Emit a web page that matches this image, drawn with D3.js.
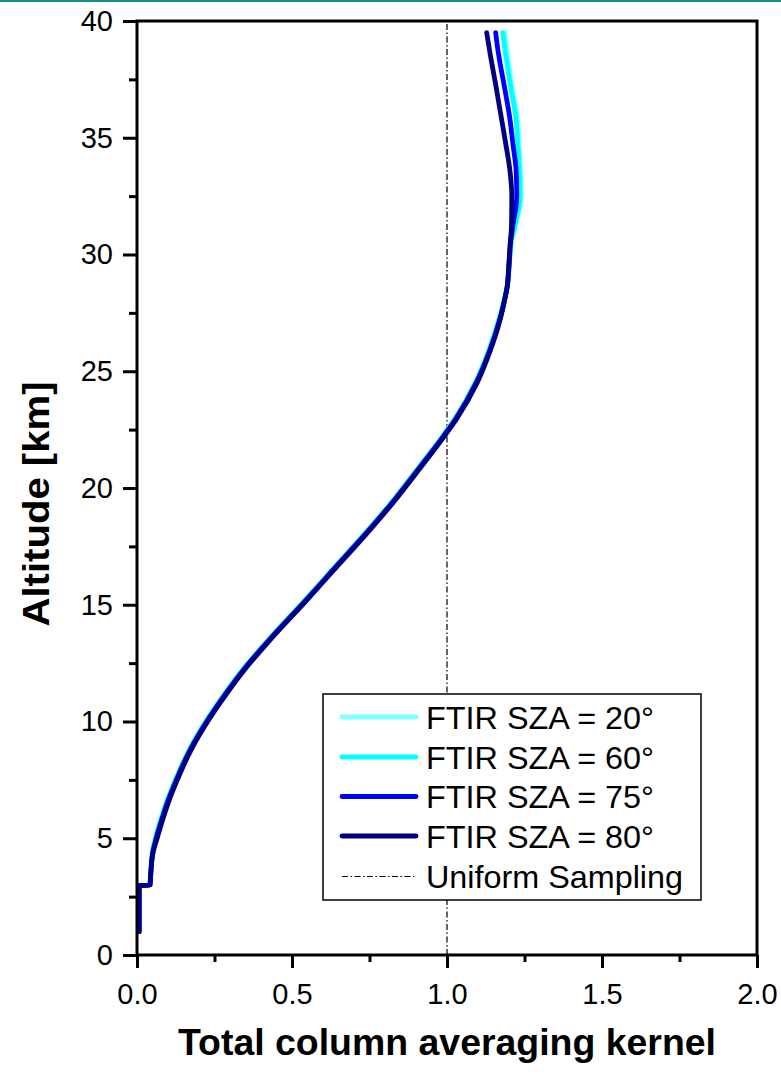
<!DOCTYPE html>
<html>
<head>
<meta charset="utf-8">
<script src="https://cdn.jsdelivr.net/npm/d3@7"></script>
<style>
  html, body { margin: 0; padding: 0; background: #fff; }
  svg { display: block; }
  text { font-family: "Liberation Sans", Arial, sans-serif; }
</style>
</head>
<body>
<svg id="chart" width="781" height="1074"></svg>
<script>
// ---- Data ----
const altitude = [1.0, 2.97, 3.0, 3.2, 3.6, 4.4, 5.0, 5.8, 6.6, 7.5, 8.8, 10.0, 11.0, 12.3, 13.5, 15.2, 16.5, 18.0, 19.5, 20.9, 22.3, 23.0, 24.5, 25.9, 27.3, 28.0, 28.6, 29.5, 30.5, 31.2, 32.5, 33.6, 34.7, 35.8, 37.2, 38.6, 39.5];

const sza20 = [0.007, 0.007, 0.042, 0.043, 0.045, 0.049, 0.058, 0.076, 0.096, 0.123, 0.168, 0.221, 0.272, 0.345, 0.423, 0.541, 0.629, 0.731, 0.827, 0.909, 0.989, 1.026, 1.090, 1.134, 1.168, 1.183, 1.193, 1.201, 1.207, 1.220, 1.240, 1.238, 1.233, 1.227, 1.210, 1.195, 1.187];
const sza60 = [0.007, 0.007, 0.042, 0.043, 0.045, 0.050, 0.060, 0.078, 0.098, 0.125, 0.170, 0.223, 0.274, 0.347, 0.425, 0.543, 0.631, 0.733, 0.829, 0.911, 0.991, 1.028, 1.092, 1.136, 1.170, 1.184, 1.194, 1.201, 1.206, 1.218, 1.235, 1.233, 1.228, 1.223, 1.205, 1.189, 1.180];
const sza75 = [0.007, 0.007, 0.042, 0.043, 0.045, 0.051, 0.062, 0.080, 0.100, 0.127, 0.172, 0.225, 0.276, 0.349, 0.427, 0.545, 0.633, 0.735, 0.831, 0.913, 0.993, 1.030, 1.094, 1.138, 1.172, 1.185, 1.194, 1.200, 1.205, 1.212, 1.225, 1.223, 1.213, 1.203, 1.185, 1.166, 1.157];
const sza80 = [0.007, 0.007, 0.042, 0.043, 0.045, 0.052, 0.065, 0.083, 0.103, 0.130, 0.175, 0.228, 0.279, 0.352, 0.430, 0.548, 0.636, 0.738, 0.834, 0.916, 0.996, 1.033, 1.097, 1.140, 1.173, 1.185, 1.194, 1.199, 1.204, 1.208, 1.209, 1.203, 1.190, 1.176, 1.158, 1.139, 1.128];

const seriesNames = ["FTIR SZA = 20°", "FTIR SZA = 60°", "FTIR SZA = 75°", "FTIR SZA = 80°"];
const seriesColors = ["#80ffff", "#00ffff", "#0000ff", "#000080"];
const seriesValues = [sza20, sza60, sza75, sza80];

const uniformName = "Uniform Sampling";
const uniformValue = 1.0;

const xMajorTicks = [0, 0.5, 1.0, 1.5, 2.0];
const xMinorTicks = [0.25, 0.75, 1.25, 1.75];
const yMajorTicks = [0, 5, 10, 15, 20, 25, 30, 35, 40];
const yMinorTicks = [2.5, 7.5, 12.5, 17.5, 22.5, 27.5, 32.5, 37.5];

const xTitle = "Total column averaging kernel";
const yTitle = "Altitude [km]";

// ---- Layout ----
const svg = d3.select("#chart");
const L = 137, R = 757, T = 21, B = 955;
const x = d3.scaleLinear().domain([0, 2]).range([L, R]);
const y = d3.scaleLinear().domain([0, 40]).range([B, T]);

// top teal strip
svg.append("rect").attr("x", 0).attr("y", 0).attr("width", 781).attr("height", 2).attr("fill", "#138c8c");

// uniform sampling line
svg.append("line")
  .attr("x1", x(uniformValue)).attr("x2", x(uniformValue))
  .attr("y1", y(0)).attr("y2", y(40))
  .attr("stroke", "#000").attr("stroke-width", 1.2)
  .attr("stroke-dasharray", "6,2.5,1.5,2.5");

// curves
const line = d3.line().x(d => x(d[0])).y(d => y(d[1])).curve(d3.curveMonotoneY);
seriesValues.forEach((vals, i) => {
  const pts = vals.map((v, j) => [v, altitude[j]]);
  svg.append("path")
    .attr("d", line(pts))
    .attr("fill", "none")
    .attr("stroke", seriesColors[i])
    .attr("stroke-width", 4.8)
    .attr("stroke-linecap", "round")
    .attr("stroke-linejoin", "round");
});

// frame
svg.append("rect").attr("x", L).attr("y", T).attr("width", R - L).attr("height", B - T)
  .attr("fill", "none").attr("stroke", "#000").attr("stroke-width", 3);

// axes
const fontTick = 29;
const yAxis = d3.axisLeft(y).tickValues(yMajorTicks).tickSize(14).tickPadding(10).tickFormat(d3.format("d"));
const gy = svg.append("g").attr("transform", `translate(${L},0)`).call(yAxis);
const yMinor = d3.axisLeft(y).tickValues(yMinorTicks).tickSize(8).tickFormat("");
const gym = svg.append("g").attr("transform", `translate(${L},0)`).call(yMinor);

const xAxis = d3.axisBottom(x).tickValues(xMajorTicks).tickSize(13).tickPadding(15).tickFormat(d3.format(".1f"));
const gx = svg.append("g").attr("transform", `translate(0,${B})`).call(xAxis);
const xMinor = d3.axisBottom(x).tickValues(xMinorTicks).tickSize(7).tickFormat("");
const gxm = svg.append("g").attr("transform", `translate(0,${B})`).call(xMinor);

[gy, gym, gx, gxm].forEach(g => {
  g.select(".domain").remove();
  g.selectAll(".tick line").attr("stroke", "#000").attr("stroke-width", 3);
  g.selectAll("text").attr("font-size", fontTick).attr("fill", "#000")
    .attr("font-family", "'Liberation Sans', Arial, sans-serif");
});

// axis titles
svg.append("text").attr("x", 447).attr("y", 1055).attr("text-anchor", "middle")
  .attr("font-size", 37).attr("font-weight", "bold").attr("textLength", 538).attr("lengthAdjust", "spacingAndGlyphs").text(xTitle);
svg.append("text").attr("transform", `translate(49,${504}) rotate(-90)`).attr("text-anchor", "middle")
  .attr("font-size", 37).attr("font-weight", "bold").attr("textLength", 245).attr("lengthAdjust", "spacingAndGlyphs").text(yTitle);

// legend
const lg = svg.append("g");
lg.append("rect").attr("x", 323).attr("y", 694).attr("width", 378).attr("height", 206)
  .attr("fill", "#fff").attr("stroke", "#000").attr("stroke-width", 1.5);
const rowY = [717, 757, 796.5, 836, 876.5];
seriesNames.forEach((name, i) => {
  lg.append("line").attr("x1", 342).attr("x2", 416).attr("y1", rowY[i]).attr("y2", rowY[i])
    .attr("stroke", seriesColors[i]).attr("stroke-width", 4.8).attr("stroke-linecap", "round");
  lg.append("text").attr("x", 426).attr("y", rowY[i]).attr("dy", "0.36em")
    .attr("font-size", 32).attr("textLength", 228).attr("lengthAdjust", "spacingAndGlyphs").text(name);
});
lg.append("line").attr("x1", 342).attr("x2", 414).attr("y1", rowY[4]).attr("y2", rowY[4])
  .attr("stroke", "#000").attr("stroke-width", 1.2).attr("stroke-dasharray", "6,2.5,1.5,2.5");
lg.append("text").attr("x", 426).attr("y", rowY[4]).attr("dy", "0.36em")
  .attr("font-size", 32).attr("textLength", 257).attr("lengthAdjust", "spacingAndGlyphs").text(uniformName);
</script>
</body>
</html>
